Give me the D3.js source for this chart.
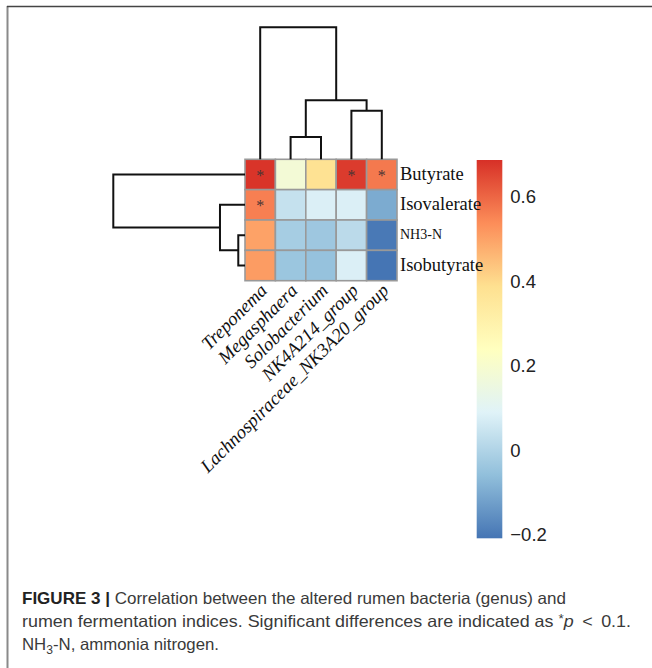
<!DOCTYPE html>
<html>
<head>
<meta charset="utf-8">
<script src="https://cdn.jsdelivr.net/npm/d3@7"></script>
<style>
  html, body { margin: 0; padding: 0; background: #fff; }
  svg { display: block; }
</style>
</head>
<body>
<svg id="fig" width="652" height="668"></svg>
<script>
// Genera (columns) and fermentation indices (rows), in dendrogram order
const genera = ["Treponema", "Megasphaera", "Solobacterium", "NK4A214_group", "Lachnospiraceae_NK3A20_group"];
const indices = ["Butyrate", "Isovalerate", "NH3-N", "Isobutyrate"];

// Correlation coefficients, one array per index
const butyrate    = [0.68, 0.18, 0.38, 0.67, 0.57];
const isovalerate = [0.56, 0.04, 0.08, 0.08, -0.10];
const nh3n        = [0.50, -0.02, -0.035, 0.02, -0.20];
const isobutyrate = [0.51, -0.04, -0.05, 0.08, -0.208];

// Significance flags (*p < 0.1)
const sigButyrate    = [1, 0, 0, 1, 1];
const sigIsovalerate = [1, 0, 0, 0, 0];
const sigNh3n        = [0, 0, 0, 0, 0];
const sigIsobutyrate = [0, 0, 0, 0, 0];

// Hierarchical clustering merges: [left, right, height]; numbers refer to earlier merges
const colMerges = [
  ["Megasphaera", "Solobacterium", 0.169],
  ["NK4A214_group", "Lachnospiraceae_NK3A20_group", 0.367],
  [0, 1, 0.448],
  ["Treponema", 2, 1.0]
];
const rowMerges = [
  ["NH3-N", "Isobutyrate", 0.051],
  ["Isovalerate", 0, 0.19],
  ["Butyrate", 1, 1.0]
];

// Colour legend
const legendDomain = [-0.208, 0.687];
const legendTicks = [-0.2, 0, 0.2, 0.4, 0.6];
const palette = ["#4575B4", "#91BFDB", "#E0F3F8", "#FFFFBF", "#FEE090", "#FC8D59", "#D73027"];

const values = [butyrate, isovalerate, nh3n, isobutyrate];
const sig = [sigButyrate, sigIsovalerate, sigNh3n, sigIsobutyrate];

const svg = d3.select("#fig");

// Panel frame
svg.append("line").attr("x1", 7.5).attr("x2", 7.5).attr("y1", 6).attr("y2", 668)
  .attr("stroke", "#8a8a8a").attr("stroke-width", 2);
svg.append("line").attr("x1", 7).attr("x2", 652).attr("y1", 6.5).attr("y2", 6.5)
  .attr("stroke", "#444").attr("stroke-width", 1.5);

const stops = palette.map((_, i) => legendDomain[0] + i * (legendDomain[1] - legendDomain[0]) / (palette.length - 1));
const color = d3.scaleLinear().domain(stops).range(palette).interpolate(d3.interpolateRgb).clamp(true);

// Colour bar (drawn first so row labels sit on top of it)
const lx0 = 476.7, lw = 25.6, ly0 = 160, ly1 = 538.3;
const ly = d3.scaleLinear().domain(legendDomain).range([ly1, ly0]);
const grad = svg.append("defs").append("linearGradient")
  .attr("id", "cbar").attr("x1", 0).attr("x2", 0).attr("y1", 1).attr("y2", 0);
grad.selectAll("stop").data(stops).join("stop")
  .attr("offset", (d, i) => i / (stops.length - 1))
  .attr("stop-color", d => color(d));
svg.append("rect").attr("x", lx0).attr("y", ly0).attr("width", lw).attr("height", ly1 - ly0)
  .attr("fill", "url(#cbar)");
svg.append("g").selectAll("text").data(legendTicks).join("text")
  .attr("x", lx0 + lw + 8)
  .attr("y", d => ly(d) + 6.5)
  .attr("font-family", "'Liberation Sans', Arial, sans-serif")
  .attr("font-size", 18.5)
  .attr("fill", "#222")
  .text(d => d < 0 ? "\u2212" + Math.abs(d) : String(d));

// Heatmap geometry
const gx0 = 245, gx1 = 397, gy0 = 159.3, gy1 = 280.7;
const x = d3.scaleBand().domain(genera).range([gx0, gx1]);
const y = d3.scaleBand().domain(indices).range([gy0, gy1]);

const cells = [];
indices.forEach((r, i) => genera.forEach((c, j) => cells.push({ r, c, v: values[i][j], s: sig[i][j] })));

const g = svg.append("g");
g.selectAll("rect.cell").data(cells).join("rect")
  .attr("class", "cell")
  .attr("x", d => x(d.c)).attr("y", d => y(d.r))
  .attr("width", x.bandwidth()).attr("height", y.bandwidth())
  .attr("fill", d => color(d.v))
  .attr("stroke", "#999").attr("stroke-width", 1.6);

g.selectAll("text.star").data(cells.filter(d => d.s)).join("text")
  .attr("class", "star")
  .attr("x", d => x(d.c) + x.bandwidth() / 2)
  .attr("y", d => y(d.r) + y.bandwidth() / 2 + 6.5)
  .attr("text-anchor", "middle")
  .attr("font-family", "'Liberation Serif', 'DejaVu Serif', serif")
  .attr("font-size", 16)
  .attr("fill", "#4a3434")
  .text("*");

// Row labels
g.selectAll("text.rowlab").data(indices).join("text")
  .attr("class", "rowlab")
  .attr("x", gx1 + 3)
  .attr("y", d => y(d) + y.bandwidth() / 2 + (d === "NH3-N" ? 4 : 5.5))
  .attr("font-family", "'Liberation Serif', 'Times New Roman', serif")
  .attr("font-size", d => d === "NH3-N" ? 14 : 18.5)
  .attr("fill", "#111")
  .text(d => d);

// Column labels, rotated 45°
g.selectAll("text.collab").data(genera).join("text")
  .attr("class", "collab")
  .attr("transform", d => `translate(${x(d) + x.bandwidth() / 2 + 8},${gy1 + 11}) rotate(-45)`)
  .attr("text-anchor", "end")
  .attr("font-family", "'Liberation Serif', 'Times New Roman', serif")
  .attr("font-style", "italic")
  .attr("font-size", 18.8)
  .attr("fill", "#111")
  .text(d => d);

// Dendrograms
function buildTree(merges) {
  const nodes = merges.map(([a, b, h]) => ({ a, b, h }));
  const resolve = k => typeof k === "number" ? nodes[k] : { leaf: k, h: 0 };
  nodes.forEach(n => { n.left = resolve(n.a); n.right = resolve(n.b); });
  return nodes[nodes.length - 1];
}
function drawTree(root, leafPos, heightPos, horizontal) {
  const segs = [];
  (function walk(n) {
    if (n.leaf !== undefined) return leafPos(n.leaf);
    const p1 = walk(n.left), p2 = walk(n.right);
    const hh = heightPos(n.h), h1 = heightPos(n.left.h), h2 = heightPos(n.right.h);
    segs.push([[p1, h1], [p1, hh], [p2, hh], [p2, h2]]);
    return (p1 + p2) / 2;
  })(root);
  const line = d3.line().x(d => horizontal ? d[1] : d[0]).y(d => horizontal ? d[0] : d[1]);
  svg.append("g").selectAll("path").data(segs).join("path")
    .attr("d", line).attr("fill", "none").attr("stroke", "#111").attr("stroke-width", 2);
}

const colH = d3.scaleLinear().domain([0, 1]).range([gy0, 27.3]);
drawTree(buildTree(colMerges), k => x(k) + x.bandwidth() / 2, colH, false);
const rowH = d3.scaleLinear().domain([0, 1]).range([gx0, 113.3]);
drawTree(buildTree(rowMerges), k => y(k) + y.bandwidth() / 2, rowH, true);

// Caption
const cap = svg.append("g")
  .attr("font-family", "'Liberation Sans', Arial, sans-serif")
  .attr("font-size", 16.5)
  .attr("fill", "#3a3a3a");
const l1 = cap.append("text").attr("x", 22).attr("y", 604);
l1.append("tspan").attr("font-weight", "bold").attr("fill", "#222").text("FIGURE 3 |");
l1.append("tspan").text(" Correlation between the altered rumen bacteria (genus) and");
const l2 = cap.append("text").attr("x", 22).attr("y", 627);
l2.append("tspan").text("rumen fermentation indices. Significant differences are indicated as ");
l2.append("tspan").attr("font-size", "0.75em").attr("dy", -4).text("*");
l2.append("tspan").attr("font-style", "italic").attr("dy", 4).text("p");
l2.append("tspan").text(" \u2009<\u2009 0.1.");
const l3 = cap.append("text").attr("x", 22).attr("y", 650);
l3.append("tspan").text("NH");
l3.append("tspan").attr("font-size", "0.72em").attr("dy", 4).text("3");
l3.append("tspan").attr("dy", -4).text("-N, ammonia nitrogen.");

// The caption face is a little wider than Arial: fit each line to its right edge
[[l1, 566], [l2, 631], [l3, 219]].forEach(([t, right]) =>
  t.attr("textLength", right - 22).attr("lengthAdjust", "spacingAndGlyphs"));
</script>
</body>
</html>
